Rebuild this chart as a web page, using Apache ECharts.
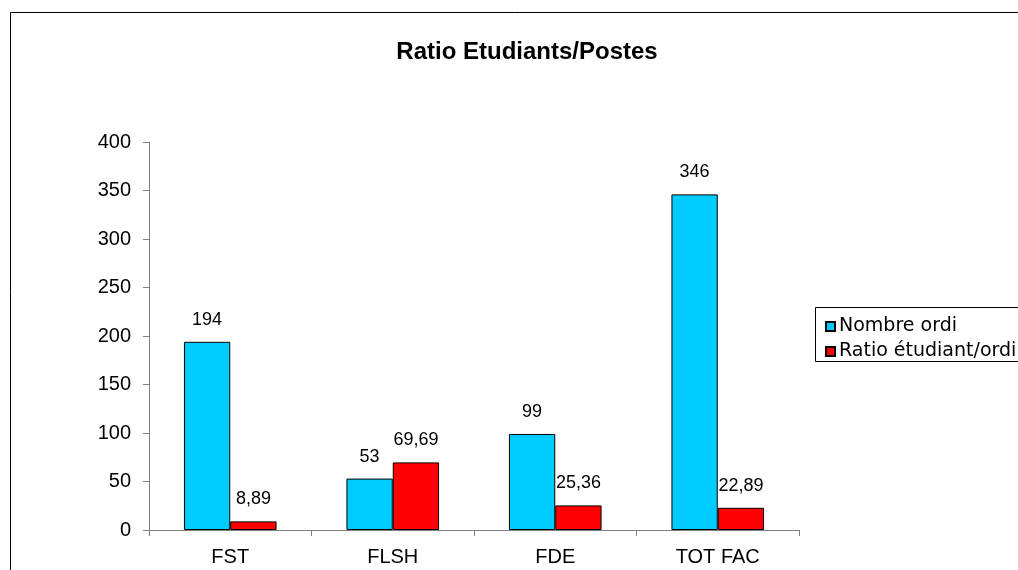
<!DOCTYPE html>
<html>
<head>
<meta charset="utf-8">
<script src="https://cdn.jsdelivr.net/npm/echarts@6/dist/echarts.min.js"></script>
<style>
html, body { margin: 0; padding: 0; background: #fff; }
#main { width: 1018px; height: 570px; }
</style>
</head>
<body>
<div id="main"></div>
<script>
// données
var categories = ['FST', 'FLSH', 'FDE', 'TOT FAC'];
var nombreOrdi = [194, 53, 99, 346];
var ratioEtudiant = [8.89, 69.69, 25.36, 22.89];
var yTicks = [0, 50, 100, 150, 200, 250, 300, 350, 400];

var myChart = echarts.init(document.getElementById('main'));

function virgule(p) {
	return String(p.value).replace('.', ',');
}

var labelStyle = {
	show: true,
	position: 'top',
	distance: 13,
	fontFamily: 'Liberation Sans',
	fontSize: 18,
	color: '#000',
	formatter: virgule
};

option = {
	backgroundColor: '#fff',
	animation: false,
	title: {
		text: 'Ratio Etudiants/Postes',
		left: 522,
		textAlign: 'center',
		top: 35,
		textStyle: {
			fontFamily: 'Liberation Sans',
			fontWeight: 'bold',
			fontSize: 24,
			color: '#000'
		}
	},
	graphic: [
		{
			type: 'rect',
			shape: { x: 10.5, y: 12.5, width: 1100, height: 700 },
			style: { fill: 'none', stroke: '#000', lineWidth: 1 },
			silent: true
		},
		{
			type: 'rect',
			shape: { x: 815.5, y: 307.5, width: 300, height: 54 },
			style: { fill: '#fff', stroke: '#000', lineWidth: 1 },
			silent: true,
			z: -1
		}
	],
	legend: {
		orient: 'vertical',
		left: 820,
		top: 312,
		itemWidth: 9,
		itemHeight: 9,
		itemGap: 6,
		icon: 'rect',
		textStyle: {
			fontFamily: 'DejaVu Sans',
			fontSize: 19,
			color: '#000',
			padding: [0, 0, 0, -1]
		},
		data: ['Nombre ordi', 'Ratio étudiant/ordi']
	},
	grid: {
		left: 149,
		top: 142,
		right: 219,
		bottom: 40
	},
	xAxis: {
		type: 'category',
		data: categories,
		axisLine: { lineStyle: { color: '#808080', width: 1 } },
		axisTick: { show: true, length: 6, lineStyle: { color: '#808080' } },
		axisLabel: {
			fontFamily: 'Liberation Sans',
			fontSize: 20,
			color: '#000',
			margin: 17
		}
	},
	yAxis: {
		type: 'value',
		min: yTicks[0],
		max: yTicks[yTicks.length - 1],
		interval: 50,
		splitLine: { show: false },
		axisLine: { show: true, lineStyle: { color: '#808080', width: 1 } },
		axisTick: { show: true, length: 6, lineStyle: { color: '#808080' } },
		axisLabel: {
			fontFamily: 'Liberation Sans',
			fontSize: 20,
			color: '#000',
			margin: 18
		}
	},
	series: [
		{
			name: 'Nombre ordi',
			type: 'bar',
			data: nombreOrdi,
			barGap: '0%',
			barCategoryGap: '43%',
			itemStyle: { color: '#00CCFF', borderColor: '#000', borderWidth: 1 },
			label: labelStyle
		},
		{
			name: 'Ratio étudiant/ordi',
			type: 'bar',
			data: ratioEtudiant,
			itemStyle: { color: '#FF0000', borderColor: '#000', borderWidth: 1 },
			label: labelStyle
		}
	]
};

myChart.setOption(option);
window.onresize = myChart.resize;
</script>
</body>
</html>
